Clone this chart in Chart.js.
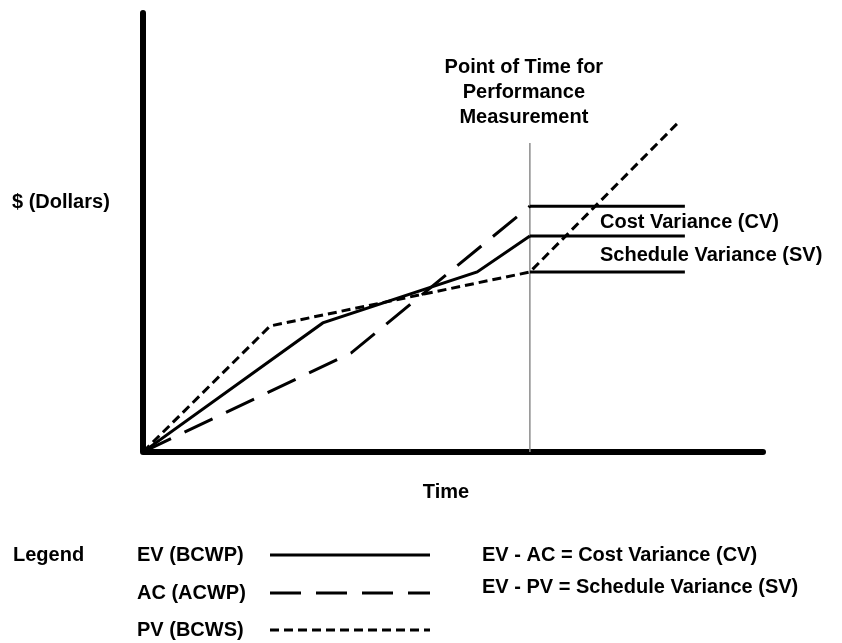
<!DOCTYPE html>
<html>
<head>
<meta charset="utf-8">
<script src="https://cdn.jsdelivr.net/npm/chart.js@4.4.1/dist/chart.umd.min.js"></script>
<style>
  html, body { margin: 0; padding: 0; background: #fff; }
</style>
</head>
<body>
<canvas id="evm" width="842" height="643"></canvas>
<script>
// time and dollars both run 0..100 (no units shown on the axes)
var statusDate = 62.4;          // point of time for performance measurement
var evTime  = [0, 29.0, 53.9, 62.4];
var evValue = [0, 29.4, 41.0, 49.2];
var acTime  = [0, 33.6, 62.4];
var acValue = [0, 22.6, 56.0];
var pvTime  = [0, 20.5, 62.4, 86.3];
var pvValue = [0, 28.7, 41.0, 75.0];
var varianceEnd = 87.4;         // where the CV / SV guide lines stop
var statusTop = 70.4;           // top of the measurement line

var legendNames = ['EV (BCWP)', 'AC (ACWP)', 'PV (BCWS)'];
var formulas = ['EV - AC = Cost Variance (CV)', 'EV - PV = Schedule Variance (SV)'];

function pts(xs, ys) {
  return xs.map(function(x, i) { return { x: x, y: ys[i] }; });
}
function guide(y) {
  return [{ x: statusDate, y: y }, { x: varianceEnd, y: y }];
}

var FONT = 'bold 20px "Liberation Sans", Arial, sans-serif';

var evLast = evValue[evValue.length - 1];
var acLast = acValue[acValue.length - 1];
var pvAtStatus = pvValue[pvTime.indexOf(statusDate)];

var styles = {
  ev: { borderColor: '#000', borderWidth: 3, borderDash: [] },
  ac: { borderColor: '#000', borderWidth: 3, borderDash: [31, 15] },
  pv: { borderColor: '#000', borderWidth: 3, borderDash: [9, 5] }
};

function line(label, data, st) {
  return {
    label: label,
    data: data,
    borderColor: st.borderColor,
    borderWidth: st.borderWidth,
    borderDash: st.borderDash,
    borderCapStyle: 'butt',
    pointRadius: 0,
    tension: 0,
    fill: false
  };
}

var axesPlugin = {
  id: 'axes',
  beforeDatasetsDraw: function(chart) {
    var ctx = chart.ctx, x = chart.scales.x, y = chart.scales.y;
    var x0 = x.getPixelForValue(0), y0 = y.getPixelForValue(0);
    ctx.save();
    ctx.strokeStyle = '#000';
    ctx.lineWidth = 6;
    ctx.lineCap = 'round';
    ctx.lineJoin = 'round';
    ctx.beginPath();
    ctx.moveTo(x0, y.getPixelForValue(100));
    ctx.lineTo(x0, y0);
    ctx.lineTo(x.getPixelForValue(100), y0);
    ctx.stroke();
    ctx.restore();
  },
  afterDraw: function(chart) {
    var ctx = chart.ctx, x = chart.scales.x, y = chart.scales.y;
    var sx = x.getPixelForValue(statusDate);
    ctx.save();
    ctx.fillStyle = '#000';
    ctx.font = FONT;
    ctx.textBaseline = 'middle';

    // annotation over the measurement line
    ctx.textAlign = 'center';
    ctx.fillText('Point of Time for', sx - 6, 67);
    ctx.fillText('Performance', sx - 6, 92);
    ctx.fillText('Measurement', sx - 6, 117);

    // variance labels
    ctx.textAlign = 'left';
    ctx.fillText('Cost Variance (CV)', 600, (y.getPixelForValue(acLast) + y.getPixelForValue(evLast)) / 2 + 1);
    ctx.fillText('Schedule Variance (SV)', 600, (y.getPixelForValue(evLast) + y.getPixelForValue(pvAtStatus)) / 2 + 1);

    // axis titles
    ctx.fillText('$ (Dollars)', 12, 202);
    ctx.textAlign = 'center';
    ctx.fillText('Time', 446, 492);

    // legend block
    ctx.textAlign = 'left';
    ctx.fillText('Legend', 13, 555);
    var rows = [555, 593, 630];
    var keys = ['ev', 'ac', 'pv'];
    rows.forEach(function(ry, i) {
      ctx.fillText(legendNames[i], 137, ry);
      var st = styles[keys[i]];
      ctx.beginPath();
      ctx.setLineDash(st.borderDash);
      ctx.lineWidth = st.borderWidth;
      ctx.strokeStyle = st.borderColor;
      ctx.moveTo(270, ry);
      ctx.lineTo(430, ry);
      ctx.stroke();
    });
    ctx.setLineDash([]);
    ctx.fillText(formulas[0], 482, 555);
    ctx.fillText(formulas[1], 482, 587);
    ctx.restore();
  }
};

new Chart(document.getElementById('evm'), {
  type: 'line',
  data: {
    datasets: [
      line('EV (BCWP)', pts(evTime, evValue), styles.ev),
      line('AC (ACWP)', pts(acTime, acValue), styles.ac),
      line('PV (BCWS)', pts(pvTime, pvValue), styles.pv),
      line('AC level', guide(acLast), styles.ev),
      line('EV level', guide(evLast), styles.ev),
      line('PV level', guide(pvAtStatus), styles.ev),
      {
        label: 'Measurement',
        data: [{ x: statusDate, y: 0 }, { x: statusDate, y: statusTop }],
        borderColor: '#8c8c8c',
        borderWidth: 1.5,
        pointRadius: 0
      }
    ]
  },
  options: {
    responsive: false,
    animation: false,
    layout: { padding: { left: 143, right: 79, top: 13, bottom: 191 } },
    plugins: {
      legend: { display: false },
      tooltip: { enabled: false }
    },
    scales: {
      x: { type: 'linear', min: 0, max: 100, display: false },
      y: { type: 'linear', min: 0, max: 100, display: false }
    }
  },
  plugins: [axesPlugin]
});
</script>
</body>
</html>
